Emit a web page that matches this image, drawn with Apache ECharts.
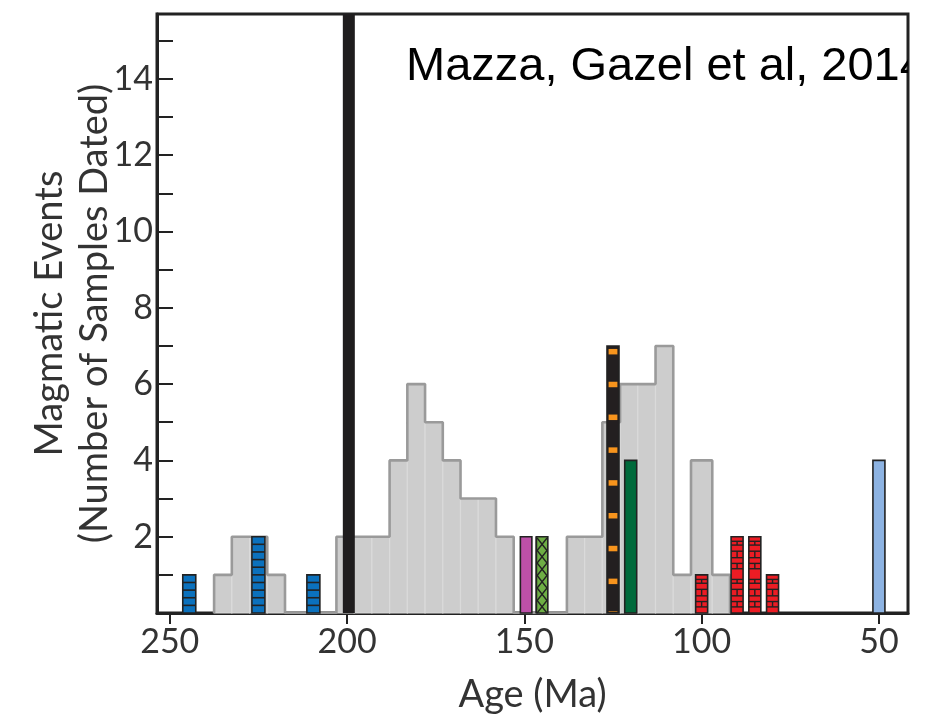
<!DOCTYPE html>
<html>
<head>
<meta charset="utf-8">
<script src="https://cdn.jsdelivr.net/npm/echarts@6/dist/echarts.min.js"></script>
<style>
  html, body { margin: 0; padding: 0; background: #ffffff; }
  #chart { width: 935px; height: 728px; }
</style>
</head>
<body>
<div id="chart"></div>
<script>
// Age axis (Ma, older to the left) and count axis tick values
const ageTicks = [250, 200, 150, 100, 50];
const countLabels = [2, 4, 6, 8, 10, 12, 14];
const countMinorTicks = [1, 2, 3, 4, 5, 6, 7, 8, 9, 10, 11, 12, 13, 14, 15];

// Histogram of dated samples: [older bin edge, younger bin edge, count]
const histBins = [
  [237.5, 232.5, 1], [232.5, 227.5, 2], [227.5, 222.5, 2], [222.5, 217.5, 1],
  [203, 198, 2], [198, 193, 2], [193, 188, 2], [188, 183, 4], [183, 178, 6],
  [178, 173, 5], [173, 168, 4], [168, 163, 3], [163, 158, 3], [158, 153, 2],
  [138, 133, 2], [133, 128, 2], [128, 123, 5], [123, 118, 6], [118, 113, 6],
  [113, 108, 7], [108, 103, 1], [103, 97, 4], [97, 92, 1]
];

// Individual magmatic events: [age (Ma), number of samples]
const blueEvents = [[244.5, 1], [225, 2], [209.5, 1]];
const purpleEvents = [[149.5, 2]];
const hatchedEvents = [[145, 2]];
const dashedEvents = [[125, 7]];
const darkGreenEvents = [[120, 4]];
const redEvents = [[100, 1], [90, 2], [85, 2], [80, 1]];
const paleBlueEvents = [[50, 4]];

// Reference age drawn as a full-height band
const campAge = [[199.5]];

const sourceNote = 'Mazza, Gazel et al, 2014';

const AXIS_FONT = 'Lato, "Open Sans", sans-serif';
const INK = '#222222';

// Outline of the whole histogram as one stepped path along the baseline
function histOutline(bins) {
  const pts = [];
  bins.forEach((b, i) => {
    const prev = bins[i - 1];
    if (!prev || prev[1] !== b[0]) {
      pts.push([b[0], 0]);
    }
    pts.push([b[0], b[2]]);
    pts.push([b[1], b[2]]);
    const next = bins[i + 1];
    if (!next || next[0] !== b[1]) {
      pts.push([b[1], 0]);
    }
  });
  return pts;
}

function barBox(api, px) {
  const age = api.value(0), n = api.value(1);
  const top = api.coord([age, n]);
  const base = api.coord([age, 0]);
  const unit = base[1] - api.coord([age, 1])[1];
  return { x: top[0] - px / 2, y: top[1], w: px, h: base[1] - top[1], base: base[1], unit: unit };
}

function frameRect(b, fill) {
  return {
    type: 'rect',
    shape: { x: b.x, y: b.y, width: b.w, height: b.h },
    style: { fill: fill, stroke: INK, lineWidth: 1.6 }
  };
}

function lineEl(x1, y1, x2, y2, w) {
  return {
    type: 'line',
    shape: { x1: x1, y1: y1, x2: x2, y2: y2 },
    style: { stroke: INK, lineWidth: w || 1.5 }
  };
}

// Blue bars: ladder of horizontal rungs
function renderBlue(params, api) {
  const b = barBox(api, 13);
  const kids = [frameRect(b, '#0b71bd')];
  const step = b.unit / 5;
  for (let y = b.base - step; y > b.y + 1; y -= step) {
    kids.push(lineEl(b.x, y, b.x + b.w, y, 1.6));
  }
  return { type: 'group', children: kids };
}

function renderPlain(color, px) {
  return function (params, api) {
    const b = barBox(api, px);
    return frameRect(b, color);
  };
}

// Green bar with crossing zigzags
function renderHatched(params, api) {
  const b = barBox(api, 11.5);
  const kids = [frameRect(b, '#6eae45')];
  const step = 12.5;
  const a = [], c = [];
  let k = 0;
  for (let y = b.base; y >= b.y - 0.1; y -= step, k++) {
    const left = b.x + 0.8, right = b.x + b.w - 0.8;
    a.push([k % 2 ? right : left, y]);
    c.push([k % 2 ? left : right, y]);
  }
  kids.push({ type: 'polyline', shape: { points: a }, style: { stroke: INK, lineWidth: 1.4, fill: null } });
  kids.push({ type: 'polyline', shape: { points: c }, style: { stroke: INK, lineWidth: 1.4, fill: null } });
  kids.push(lineEl(b.x, b.y, b.x, b.base, 1.6));
  return { type: 'group', children: kids };
}

// Black bar with orange dashes
function renderDashed(params, api) {
  const b = barBox(api, 12);
  const kids = [frameRect(b, '#231f20')];
  const step = b.unit * 0.86;
  for (let y = b.y + 3; y < b.base - 1; y += step) {
    const hgt = Math.min(5.5, b.base - 1 - y);
    kids.push({
      type: 'rect',
      shape: { x: b.x + 1.6, y: y, width: b.w - 3.2, height: hgt },
      style: { fill: '#f7941d' }
    });
  }
  return { type: 'group', children: kids };
}

// Red bars with an irregular brick pattern
function renderRed(params, api) {
  const b = barBox(api, 12);
  const kids = [frameRect(b, '#ec1c24')];
  const rows = [0.16, 0.3, 0.45, 0.62, 0.78, 0.88];
  const mid = b.x + b.w / 2;
  const n = api.value(1);
  for (let r = 0; r < n; r++) {
    rows.forEach((f, i) => {
      const y = b.base - (r + f) * b.unit;
      if (y > b.y + 2) {
        kids.push(lineEl(b.x, y, b.x + b.w, y, 1.4));
        if (i % 2 === 0) {
          const y2 = b.base - (r + rows[i + 1]) * b.unit;
          kids.push(lineEl(mid, y, mid, Math.max(y2, b.y + 2), 1.4));
        }
      }
    });
  }
  return { type: 'group', children: kids };
}

function renderBin(params, api) {
  const p0 = api.coord([api.value(0), api.value(2)]);
  const p1 = api.coord([api.value(1), 0]);
  return {
    type: 'rect',
    shape: { x: p0[0], y: p0[1], width: p1[0] - p0[0], height: p1[1] - p0[1] },
    style: { fill: '#cdcdcd', stroke: '#dadada', lineWidth: 1.2 }
  };
}

function renderCamp(params, api) {
  const cs = params.coordSys;
  const p = api.coord([api.value(0), 0]);
  return {
    type: 'rect',
    shape: { x: p[0] - 6, y: cs.y, width: 12, height: p[1] - cs.y },
    style: { fill: '#1f1d1e' }
  };
}

function renderNote(params, api) {
  const cs = params.coordSys;
  return {
    type: 'text',
    x: cs.x + 249,
    y: cs.y + 30,
    style: {
      text: sourceNote,
      fill: '#000000',
      font: '47px "Liberation Sans", Arial, sans-serif',
      verticalAlign: 'top',
      align: 'left'
    }
  };
}

const chart = echarts.init(document.getElementById('chart'), null, { renderer: 'canvas' });

chart.setOption({
  animation: false,
  backgroundColor: '#ffffff',
  grid: {
    left: 157, right: 27, top: 14, bottom: 115,
    show: true, borderColor: INK, borderWidth: 3, backgroundColor: 'transparent'
  },
  xAxis: {
    type: 'value',
    min: 41.8, max: 253.6,
    inverse: true,
    name: 'Age (Ma)',
    nameLocation: 'middle',
    nameGap: 63,
    nameTextStyle: { fontFamily: AXIS_FONT, fontSize: 38, color: '#333333' },
    axisLine: { show: true, onZero: false, lineStyle: { color: INK, width: 3 } },
    axisTick: { show: true, inside: false, length: 11, customValues: ageTicks, lineStyle: { color: INK, width: 2 } },
    axisLabel: { customValues: ageTicks, fontFamily: AXIS_FONT, fontSize: 34, color: '#333333', margin: 12 },
    splitLine: { show: false }
  },
  yAxis: {
    type: 'value',
    min: 0, max: 15.7,
    name: 'Magmatic Events\n(Number of Samples Dated)',
    nameLocation: 'middle',
    nameGap: 40,
    nameMoveOverlap: false,
    nameTextStyle: { fontFamily: AXIS_FONT, fontSize: 38, color: '#333333', lineHeight: 45 },
    axisLine: { show: true, lineStyle: { color: INK, width: 3 } },
    axisTick: { show: true, inside: true, length: 16, customValues: countMinorTicks, lineStyle: { color: INK, width: 2 } },
    axisLabel: { customValues: countLabels, fontFamily: AXIS_FONT, fontSize: 34, color: '#333333', margin: 4 },
    splitLine: { show: false }
  },
  series: [
    { type: 'custom', name: 'histogram', data: histBins, renderItem: renderBin, encode: { x: [0, 1], y: 2 }, z: 1 },
    {
      type: 'line', name: 'outline', data: histOutline(histBins), showSymbol: false, symbol: 'none',
      lineStyle: { color: '#9a9a9a', width: 2.6 }, z: 2, silent: true
    },
    { type: 'custom', name: 'blue', data: blueEvents, renderItem: renderBlue, encode: { x: 0, y: 1 }, z: 3 },
    { type: 'custom', name: 'purple', data: purpleEvents, renderItem: renderPlain('#bd50a8', 11.5), encode: { x: 0, y: 1 }, z: 3 },
    { type: 'custom', name: 'hatched', data: hatchedEvents, renderItem: renderHatched, encode: { x: 0, y: 1 }, z: 3 },
    { type: 'custom', name: 'dashed', data: dashedEvents, renderItem: renderDashed, encode: { x: 0, y: 1 }, z: 3 },
    { type: 'custom', name: 'darkgreen', data: darkGreenEvents, renderItem: renderPlain('#006a3b', 12), encode: { x: 0, y: 1 }, z: 3 },
    { type: 'custom', name: 'red', data: redEvents, renderItem: renderRed, encode: { x: 0, y: 1 }, z: 3 },
    { type: 'custom', name: 'paleblue', data: paleBlueEvents, renderItem: renderPlain('#8db3e2', 12), encode: { x: 0, y: 1 }, z: 3 },
    { type: 'custom', name: 'camp', data: campAge, renderItem: renderCamp, encode: { x: 0 }, z: 4 },
    { type: 'custom', name: 'note', data: [[0]], renderItem: renderNote, clip: true, z: 5, silent: true }
  ]
});
</script>
</body>
</html>
